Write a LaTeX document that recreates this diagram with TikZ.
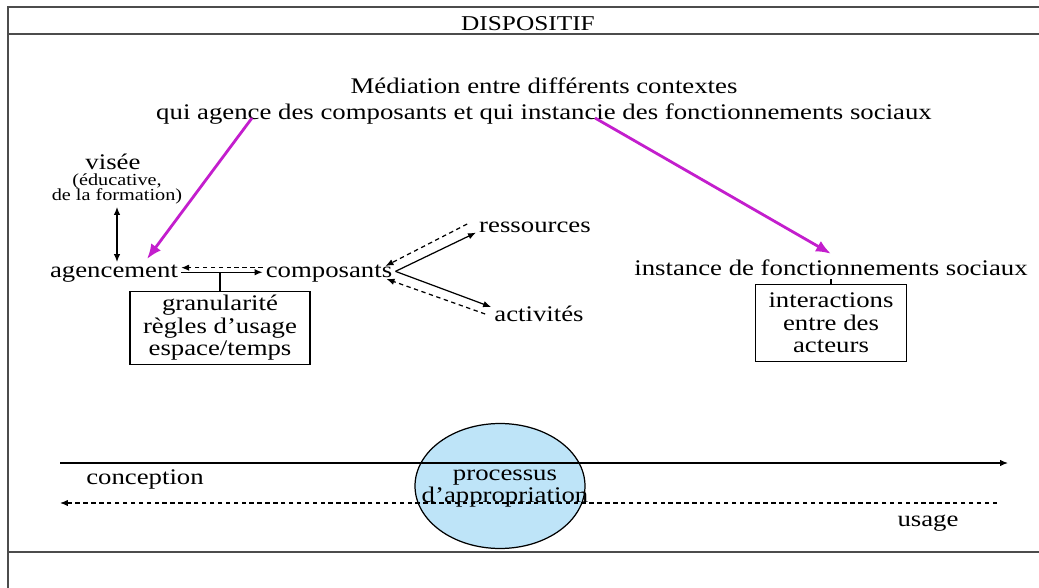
\documentclass[tikz,border=0pt]{standalone}
\usepackage{fontspec}
\setmainfont{Liberation Serif}[FakeStretch=1.2]
\usetikzlibrary{arrows.meta,shapes.geometric}
\definecolor{mauve}{RGB}{195,30,205}
\definecolor{bleuclair}{RGB}{190,228,248}

\begin{document}
\begin{tikzpicture}[x = 0.02cm, y = -0.02cm, line width = 0.7pt,
                    >={Latex[length=1.6mm,width=1.3mm]},
                    txt/.style = {inner sep = 1.5pt, font = \fontsize{12.7}{14.8}\selectfont},
                    petit/.style = {inner sep = 1pt, align = center, font = \fontsize{9.6}{9}\selectfont},
                    boite/.style = {draw, align = center, inner sep = 2pt, font = \fontsize{12.7}{12.8}\selectfont},
                    tirets/.style = {dash pattern = on 2.5pt off 2pt},
                    fleche/.style = {-{Latex[length=3mm,width=2.4mm]}, draw = mauve, line width = 1.6pt},
                    cadre/.style = {draw = black!70, line width = 0.9pt}]
  \useasboundingbox (0, 0) rectangle (1039, 588);
  \draw [cadre] (1039, 7) -- (8, 7) -- (8, 588);
  \draw [cadre] (8, 34) -- (1039, 34);
  \draw [cadre] (8, 552) -- (1039, 552);

  \node [txt, font = \fontsize{12}{14}\selectfont] (titre) at (528, 24) {DISPOSITIF};
  \node [txt, align = center] (med) at (544, 101) {Médiation entre différents contextes\\qui agence des composants et qui instancie des fonctionnements sociaux};
  \node [txt] (visee) at (113, 162) {visée};
  \node [petit] (visee2) at (117, 189) {(éducative,\\de la formation)};
  \node [txt] (agen) at (114, 274) {agencement};
  \node [txt] (compo) at (329, 274) {composants};
  \node [txt] (ress) at (535, 227) {ressources};
  \node [txt] (activ) at (539, 314) {activités};
  \node [boite, minimum width = 3.6cm, minimum height = 1.36cm] (gran) at (220, 328) {granularité\\règles d’usage\\espace/temps};
  \node [txt] (inst) at (831, 268) {instance de fonctionnements sociaux};
  \node [boite, minimum width = 3.02cm, minimum height = 1.54cm] (inter) at (831, 323) {interactions\\entre des\\acteurs};

  \node [ellipse, draw, fill = bleuclair, minimum width = 3.4cm, minimum height = 2.5cm, inner sep = 0pt] (cercle) at (500, 486) {};
  \node [txt, align = center, font = \fontsize{12.7}{10.8}\selectfont] (proc) at (505, 489) {processus\\d’appropriation};
  \node [txt] (conc) at (145, 479) {conception};
  \node [txt] (usage) at (928, 523) {usage};

  \coordinate (c1) at (60, 463);
  \coordinate (c2) at (1008, 463);
  \coordinate (u1) at (997, 503);
  \coordinate (u2) at (60, 503);
  \coordinate (m1) at (252, 118);
  \coordinate (m2) at (595, 118);

  \draw [<->] (visee2.south) -- (visee2.south |- agen.north);
  \draw [tirets, ->] ([yshift = 3.6pt]compo.west) -- ([yshift = 3.6pt]agen.east);
  \draw [->] ([yshift = 1pt]agen.east) -- ([yshift = 1pt]compo.west);
  \draw (gran.north) -- ([yshift = 1pt]agen.east -| gran.north);

  \draw [->] ([yshift = 1.5pt]compo.east) -- ([yshift = 1.7pt]ress.south west);
  \draw [tirets, ->] ([xshift = -5pt, yshift = 1.7pt]ress.west) -- ([shift = {(-10, -8)}]compo.east);
  \draw [->] ([yshift = 1.5pt]compo.east) -- ([shift = {(0, -7)}]activ.west);
  \draw [tirets, ->] ([shift = {(-6, 0)}]activ.west) -- ([shift = {(-9, 5)}]compo.east);

  \draw (inter.north) -- (inst.south);
  \draw [fleche] (m1) -- ([shift = {(33, -3)}]agen.north);
  \draw [fleche] (m2) -- ([shift = {(0, -3)}]inst.north);

  \draw [->] (c1) -- (c2);
  \draw [tirets, ->] (u1) -- (u2);
\end{tikzpicture}
\end{document}
